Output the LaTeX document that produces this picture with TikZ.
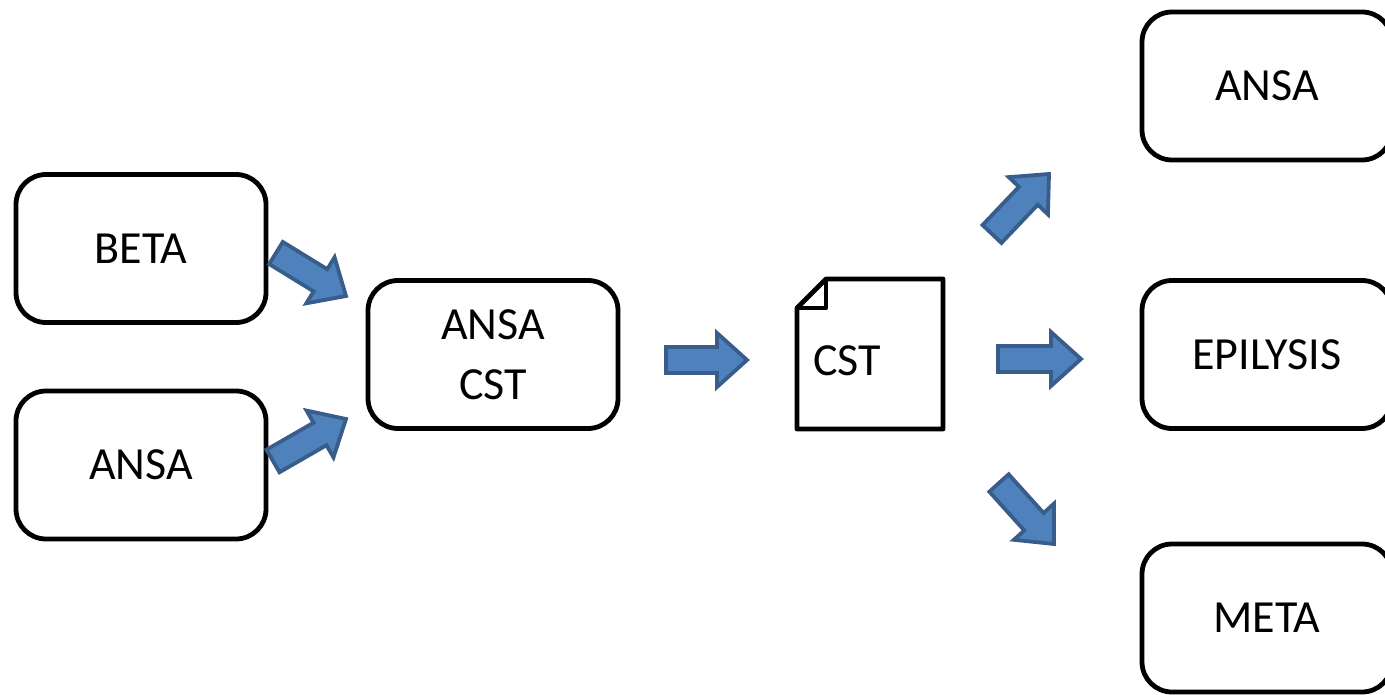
\documentclass[tikz,border=0pt]{standalone}
\usepackage{fontspec}
\setmainfont{Carlito}
\usepackage{xcolor}
\usetikzlibrary{calc}
\definecolor{arrowfill}{HTML}{4F81BD}
\definecolor{arrowdraw}{HTML}{385D8A}

\begin{document}
\begin{tikzpicture}[x=0.5pt,y=-0.5pt]
  % Define styles for boxes, document and block arrows
  \tikzset{
    box/.style={
      draw,
      rounded corners=15pt,
      line width=2.4pt,
      minimum width=125pt,
      minimum height=74pt,
      outer sep=0pt,
      align=center,
      font=\fontsize{23}{30}\selectfont
    },
    doc/.style={
      minimum width=73pt,
      minimum height=75pt,
      text width=57pt,
      text height=21.5pt,
      text depth=0pt,
      inner xsep=8pt,
      outer sep=0pt,
      align=left,
      font=\fontsize{23}{30}\selectfont
    },
    docline/.style={
      line width=2.4pt,
      line join=round
    },
    flow/.style={
      fill=arrowfill,
      draw=arrowdraw,
      line width=1.9pt,
      line join=miter,
      to path={
        ($(\tikztostart)!6.5pt!90:(\tikztotarget)$)
        -- ($($(\tikztotarget)!15pt!(\tikztostart)$)!6.5pt!90:(\tikztotarget)$)
        -- ($($(\tikztotarget)!15pt!(\tikztostart)$)!13.5pt!90:(\tikztotarget)$)
        -- (\tikztotarget)
        -- ($($(\tikztotarget)!15pt!(\tikztostart)$)!13.5pt!-90:(\tikztotarget)$)
        -- ($($(\tikztotarget)!15pt!(\tikztostart)$)!6.5pt!-90:(\tikztotarget)$)
        -- ($(\tikztostart)!6.5pt!-90:(\tikztotarget)$)
        -- cycle
      }
    }
  }

  % Fix the frame, the right boxes run past it
  \clip (0,0) rectangle (1385,695);

  % Create the boxes
  \node[box] (beta) at (141,248.5) {BETA};
  \node[box] (ansain) at (141,465) {ANSA};
  \node[box] (ansacst) at (493,354.5) {ANSA\\CST};
  \node[box] (ansaout) at (1267,86) {ANSA};
  \node[box] (epilysis) at (1267,354.5) {EPILYSIS};
  \node[box] (meta) at (1267,618) {META};

  % Create the CST document
  \node[doc] (cst) at (870,354) {CST};
  \draw[docline] ([yshift=-14.5pt]cst.north west) -- ([xshift=14.5pt]cst.north west)
    -- (cst.north east) -- (cst.south east) -- (cst.south west) -- cycle;
  \draw[docline] ([xshift=14.5pt]cst.north west) -- ([shift={(14.5pt,-14.5pt)}]cst.north west)
    -- ([yshift=-14.5pt]cst.north west);

  % Arrow ends
  \coordinate (betaout) at (276,253);
  \coordinate (cstinup) at (346,296);
  \coordinate (ansaintail) at (273,461);
  \coordinate (cstindown) at (346,419);
  \coordinate (cstout) at (666,360);
  \coordinate (docin) at (747,360);
  \coordinate (docup) at (992,234);
  \coordinate (ansaouttip) at (1049,174);
  \coordinate (docmid) at (998,359);
  \coordinate (epilysistip) at (1081,359);
  \coordinate (docdown) at (999,483);
  \coordinate (metatip) at (1054,544);

  % Draw block arrows
  \draw[flow] (betaout) to (cstinup);
  \draw[flow] (ansaintail) to (cstindown);
  \draw[flow] (cstout) to (docin);
  \draw[flow] (docup) to (ansaouttip);
  \draw[flow] (docmid) to (epilysistip);
  \draw[flow] (docdown) to (metatip);
\end{tikzpicture}
\end{document}
